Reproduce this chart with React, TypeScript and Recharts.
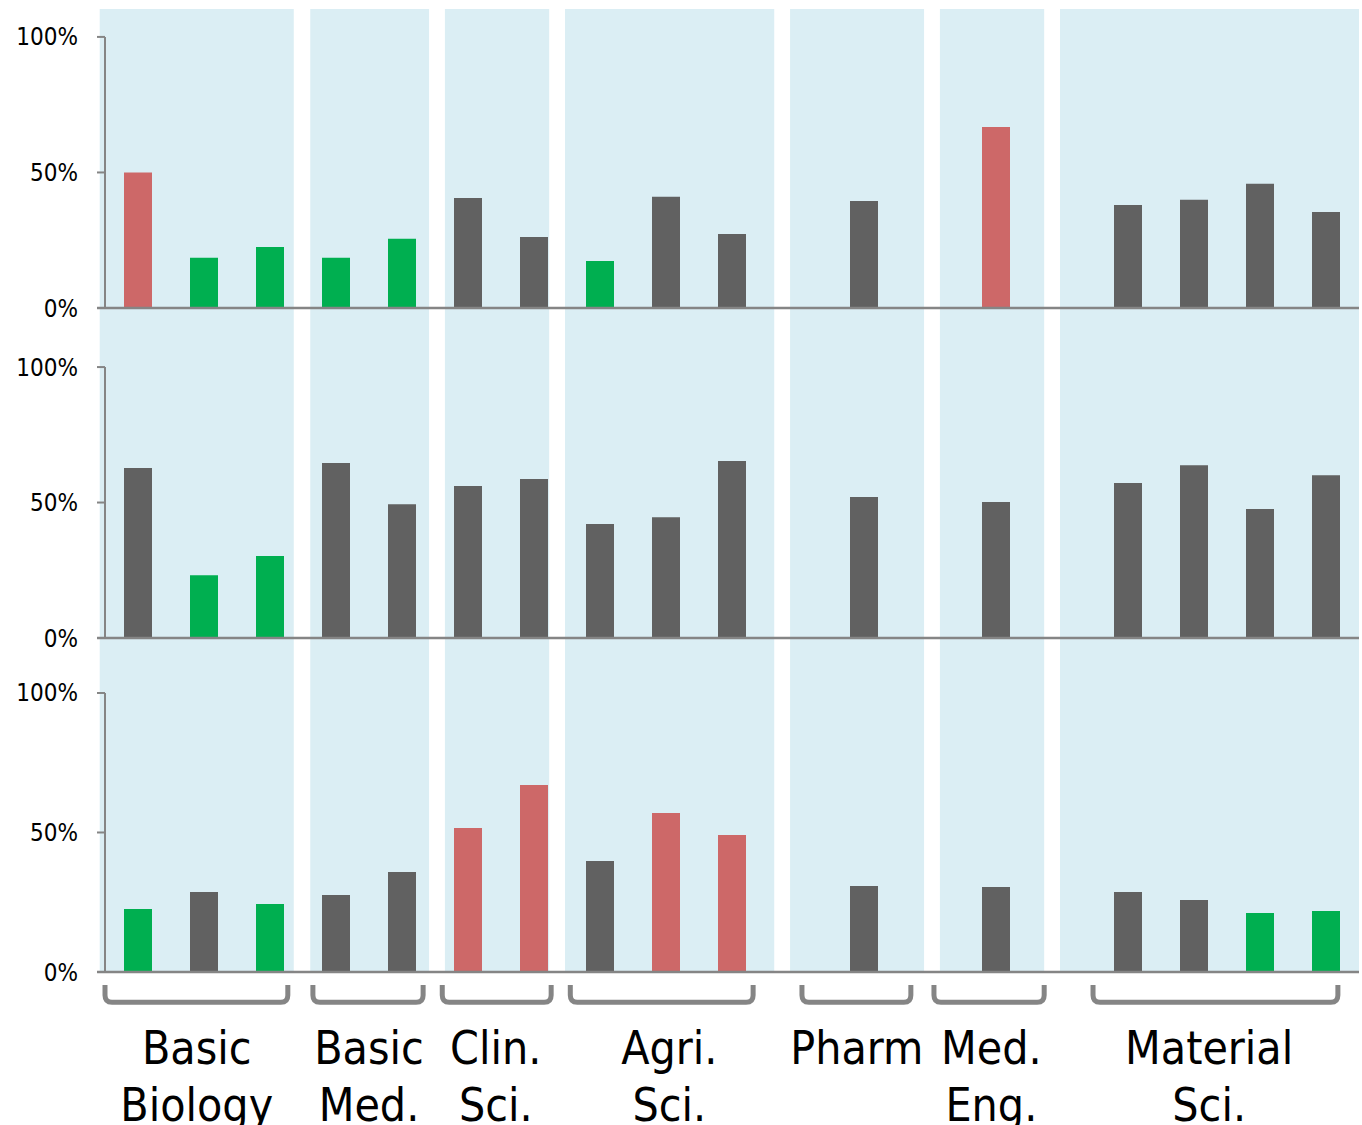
import { Bar, BarChart, Cell, ReferenceArea, ReferenceLine, XAxis, YAxis } from 'recharts'

// 19 slots along the category axis; null = empty slot
const slots = [0, 1, 2, 3, 4, 5, 6, 7, 8, 9, 10, 11, 12, 13, 14, 15, 16, 17, 18]

const topValues = [50, 18.5, 22.5, 18.5, 25.5, 40.6, 26.2, 17.3, 41, 27.3, null, 39.5, null, 66.8, null, 38, 39.9, 45.8, 35.4]
const topKinds = ['r', 'g', 'g', 'g', 'g', 'k', 'k', 'g', 'k', 'k', null, 'k', null, 'r', null, 'k', 'k', 'k', 'k']

const midValues = [62.7, 23.2, 30.3, 64.6, 49.4, 56.1, 58.7, 42.1, 44.6, 65.3, null, 52, null, 50.2, null, 57.2, 63.8, 47.6, 60.1]
const midKinds = ['k', 'g', 'g', 'k', 'k', 'k', 'k', 'k', 'k', 'k', null, 'k', null, 'k', null, 'k', 'k', 'k', 'k']

const botValues = [22.6, 28.7, 24.4, 27.6, 35.8, 51.6, 67, 39.8, 57, 49.1, null, 30.8, null, 30.5, null, 28.7, 25.8, 21.1, 21.9]
const botKinds = ['g', 'k', 'g', 'k', 'k', 'r', 'r', 'k', 'r', 'r', null, 'k', null, 'k', null, 'k', 'k', 'g', 'g']

const groupLabels = [
  ['Basic', 'Biology'],
  ['Basic', 'Med.'],
  ['Clin.', 'Sci.'],
  ['Agri.', 'Sci.'],
  ['Pharm'],
  ['Med.', 'Eng.'],
  ['Material', 'Sci.'],
]
// extent of each group on the slot axis (background band / bracket / label centre)
const groupBands = [
  [-0.58, 2.36],
  [2.61, 4.41],
  [4.65, 6.23],
  [6.47, 9.64],
  [9.88, 11.91],
  [12.15, 13.73],
  [13.97, 18.5],
]
const groupBrackets = [
  [-0.5, 2.27],
  [2.65, 4.32],
  [4.61, 6.26],
  [6.55, 9.32],
  [10.06, 11.71],
  [12.06, 13.73],
  [14.47, 18.18],
]
const groupLabelAt = [0.89, 3.5, 5.42, 8.05, 10.89, 12.93, 16.23]

const yTicks = [0, 50, 100]

const COLORS: Record<string, string> = { r: '#CD6868', g: '#00AF50', k: '#616161' }
const BAND = '#DBEEF4'
const AXIS = '#858585'
const FONT = "'DejaVu Sans Condensed', 'DejaVu Sans', sans-serif"

function Bracket(props: any) {
  const { x, y, width, height, lines, from, to, at } = props
  const r = 7
  const b = y + height
  const d = `M${x},${y} L${x},${b - r} Q${x},${b} ${x + r},${b} L${x + width - r},${b} Q${x + width},${b} ${x + width},${b - r} L${x + width},${y}`
  const cx = x + ((at - from) * width) / (to - from)
  return (
    <g>
      <path d={d} fill="none" stroke={AXIS} strokeWidth={5} />
      <text textAnchor="middle" fontFamily={FONT} fontSize={46} fill="#000" style={{ fontStretch: 'condensed' }}>
        {lines.map((l: string, i: number) => (
          <tspan key={i} x={cx} y={b + 62 + i * 57}>
            {l}
          </tspan>
        ))}
      </text>
    </g>
  )
}

interface PanelProps {
  values: (number | null)[]
  kinds: (string | null)[]
  top: number
  height: number
  marginTop: number
  marginBottom: number
  yMax: number
  brackets?: boolean
  z: number
}

function Panel({ values, kinds, top, height, marginTop, marginBottom, yMax, brackets, z }: PanelProps) {
  const data = slots
    .map((s) => ({ x: s, v: values[s], kind: kinds[s] }))
    .filter((d) => d.v != null)

  return (
    <div style={{ position: 'absolute', left: 0, top, zIndex: z }}>
      <BarChart
        width={1362}
        height={height}
        data={data}
        margin={{ top: marginTop, right: 3, bottom: marginBottom, left: 0 }}
      >
        <XAxis type="number" dataKey="x" domain={[-0.5, 18.5]} allowDataOverflow hide />
        <YAxis
          type="number"
          domain={[0, yMax]}
          allowDataOverflow
          ticks={yTicks}
          interval={0}
          width={105}
          axisLine={false}
          tickLine={{ stroke: AXIS, strokeWidth: 2 }}
          tickSize={8}
          tickMargin={19}
          tickFormatter={(v) => `${v}%`}
          tick={{ fill: '#000', fontSize: 24, fontFamily: FONT, style: { fontStretch: 'condensed' } }}
        />
        {groupBands.map(([a, b], i) => (
          <ReferenceArea key={`band${i}`} x1={a} x2={b} fill={BAND} fillOpacity={1} stroke="none" ifOverflow="visible" />
        ))}
        <Bar dataKey="v" barSize={28} isAnimationActive={false}>
          {data.map((d, i) => (
            <Cell key={i} fill={COLORS[d.kind as string]} />
          ))}
        </Bar>
        <ReferenceLine
          segment={[{ x: -0.5, y: 0 }, { x: -0.5, y: 100 }]}
          stroke={AXIS}
          strokeWidth={2}
          ifOverflow="visible"
        />
        <ReferenceLine
          segment={[{ x: -0.62, y: 0 }, { x: 18.5, y: 0 }]}
          stroke={AXIS}
          strokeWidth={2.5}
          ifOverflow="visible"
        />
        {brackets &&
          groupBrackets.map(([a, b], i) => (
            <ReferenceArea
              key={`br${i}`}
              x1={a}
              x2={b}
              y1={-4.7}
              y2={-10.8}
              ifOverflow="visible"
              shape={(p: any) => <Bracket {...p} lines={groupLabels[i]} from={a} to={b} at={groupLabelAt[i]} />}
            />
          ))}
      </BarChart>
    </div>
  )
}

export default function App() {
  return (
    <div style={{ position: 'absolute', left: 0, top: 0, width: 1362, height: 1125, background: '#fff' }}>
      <Panel values={botValues} kinds={botKinds} top={638} height={487} marginTop={0} marginBottom={153} yMax={119.7} brackets z={1} />
      <Panel values={midValues} kinds={midKinds} top={308} height={350} marginTop={0} marginBottom={20} yMax={121.8} z={2} />
      <Panel values={topValues} kinds={topKinds} top={0} height={328} marginTop={9} marginBottom={20} yMax={110.3} z={3} />
    </div>
  )
}
